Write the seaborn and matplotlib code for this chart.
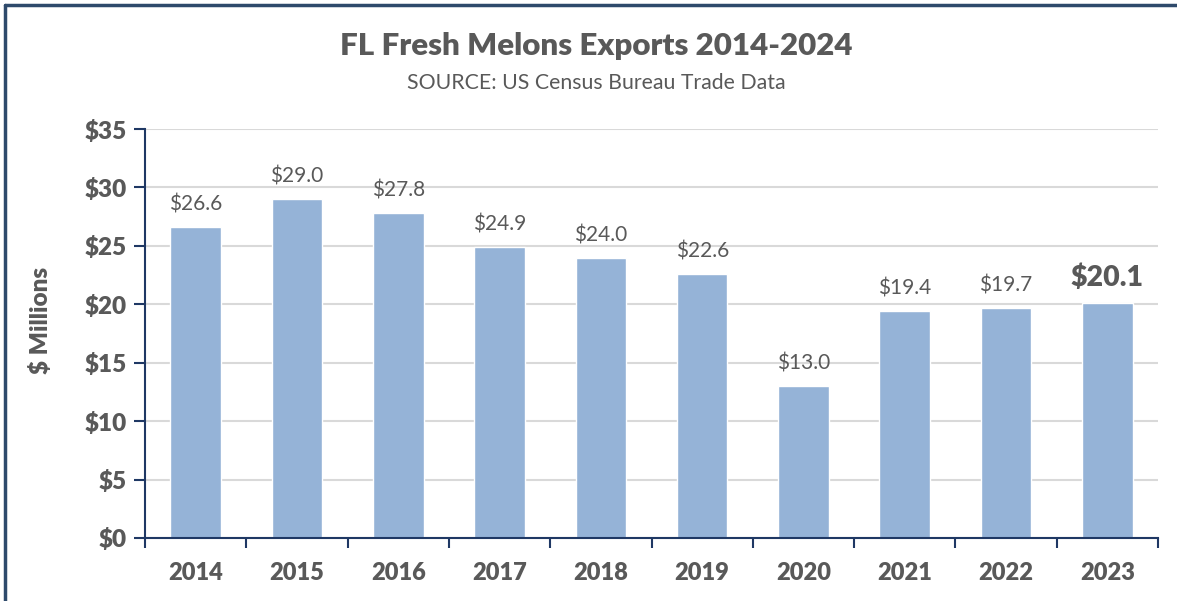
import matplotlib
matplotlib.use("Agg")
import matplotlib.pyplot as plt
import seaborn as sns
import pandas as pd
from matplotlib.lines import Line2D
from matplotlib.ticker import FixedLocator

years = ["2014", "2015", "2016", "2017", "2018", "2019", "2020", "2021", "2022", "2023"]
values = [26.6, 29.0, 27.8, 24.9, 24.0, 22.6, 13.0, 19.4, 19.7, 20.1]
y_ticks = [0, 5, 10, 15, 20, 25, 30, 35]
y_tick_labels = ["$0", "$5", "$10", "$15", "$20", "$25", "$30", "$35"]
title = "FL Fresh Melons Exports 2014-2024"
subtitle = "SOURCE: US Census Bureau Trade Data"
ylabel = "$ Millions"

sns.set_theme(style="white")
plt.rcParams["font.family"] = ["Lato", "DejaVu Sans"]

TEXT = "#595959"
NAVY = "#1F3864"
BAR = "#95B3D7"
BW = "heavy"

fig = plt.figure(figsize=(11.77, 6.01), dpi=100)
ax = fig.add_axes([145/1177, 1-538/601, (1158-145)/1177, (538-129)/601])

df = pd.DataFrame({"year": years, "value": values})
sns.barplot(data=df, x="year", y="value", color=BAR, width=0.5, saturation=1, ax=ax)

ax.set_xlim(-0.5, len(years) - 0.5)
ax.set_ylim(0, 35)
ax.set_yticks(y_ticks)
ax.set_yticklabels(y_tick_labels, fontsize=17.5, fontweight=BW, color=TEXT)
ax.yaxis.grid(True, color="#D9D9D9", linewidth=1.5)
ax.set_axisbelow(True)

# category boundary ticks
ax.xaxis.set_major_locator(FixedLocator([i - 0.5 for i in range(len(years) + 1)]))
ax.set_xticklabels([])
ax.xaxis.set_minor_locator(FixedLocator(list(range(len(years)))))
ax.set_xticklabels(years, minor=True, fontsize=17, fontweight=BW, color=TEXT)
ax.tick_params(axis="x", which="major", length=7, width=1.5, color=NAVY, direction="out", bottom=True)
ax.tick_params(axis="x", which="minor", length=0, pad=17)
ax.tick_params(axis="y", length=8, width=1.5, color=NAVY, direction="out", left=True, pad=5)

for s in ["top", "right"]:
    ax.spines[s].set_visible(False)
for s in ["left", "bottom"]:
    ax.spines[s].set_color(NAVY)
    ax.spines[s].set_linewidth(1.5)

ax.set_xlabel("")
ax.set_ylabel(ylabel, fontsize=17.5, fontweight=BW, color=TEXT)
ax.yaxis.set_label_coords((52 - 145) / (1158 - 145), (538 - 320) / (538 - 129))

for i, v in enumerate(values):
    last = i == len(values) - 1
    ax.annotate(f"${v:.1f}", (i, v), xytext=(0, 9), textcoords="offset points",
                ha="center", va="bottom", color=TEXT,
                fontsize=20.5 if last else 15, fontweight=BW if last else "normal")

fig.text(596/1177, 1-46/601, title, ha="center", va="center", fontsize=22.5, fontweight=BW, color=TEXT)
fig.text(596/1177, 1-83/601, subtitle, ha="center", va="center", fontsize=15.3, color=TEXT)

# outer frame (top and left edges)
fig.add_artist(Line2D([5/1177, 1], [1-5/601, 1-5/601], transform=fig.transFigure, color="#2E4A6B", linewidth=2.5))
fig.add_artist(Line2D([5/1177, 5/1177], [0, 1-5/601], transform=fig.transFigure, color="#2E4A6B", linewidth=2.5))

fig.savefig("out.png", dpi=100)
